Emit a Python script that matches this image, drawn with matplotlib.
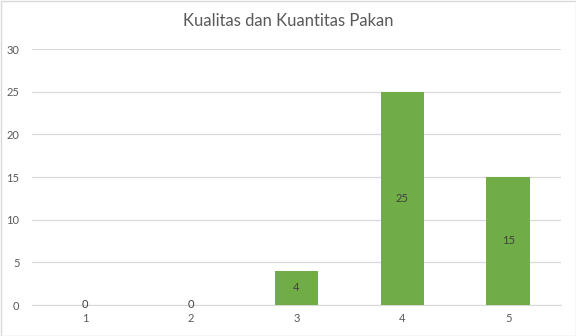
import matplotlib
matplotlib.use("Agg")
import matplotlib.pyplot as plt
from matplotlib.patches import Rectangle

categories = ["1", "2", "3", "4", "5"]
values = [0, 0, 4, 25, 15]
title = "Kualitas dan Kuantitas Pakan"
yticks = [0, 5, 10, 15, 20, 25, 30]

plt.rcParams['font.family'] = ['Lato', 'DejaVu Sans']

fig = plt.figure(figsize=(5.76, 3.36), dpi=100)
ax = fig.add_axes([32/576, 1-305/336, (561-32)/576, (305-49)/336])

x = list(range(len(categories)))
bars = ax.bar(x, values, width=0.41, color="#70AD47", zorder=3)
for xi, v in zip(x, values):
    ax.text(xi, v/2, str(v), ha="center", va="center", fontsize=8, color="#404040", zorder=4)

ax.set_xlim(-0.5, len(categories)-0.5)
ax.set_ylim(0, 30)
ax.set_yticks(yticks)
ax.set_xticks(x)
ax.set_xticklabels(categories)
ax.grid(axis="y", color="#D9D9D9", linewidth=0.9, zorder=0)
for s in ["top", "right", "left"]:
    ax.spines[s].set_visible(False)
ax.spines["bottom"].set_color("#D9D9D9")
ax.tick_params(axis="both", length=0, labelsize=8, colors="#595959")
ax.tick_params(axis="y", pad=9)
ax.tick_params(axis="x", pad=6)

fig.text(0.5, 1-21/336, title, ha="center", va="center", fontsize=12, color="#595959")
fig.patches.append(Rectangle((0.5/576, 0.5/336), 1-1/576, 1-1/336, transform=fig.transFigure,
                             fill=False, edgecolor="#D9D9D9", linewidth=1))

fig.savefig("out.png", dpi=100)
